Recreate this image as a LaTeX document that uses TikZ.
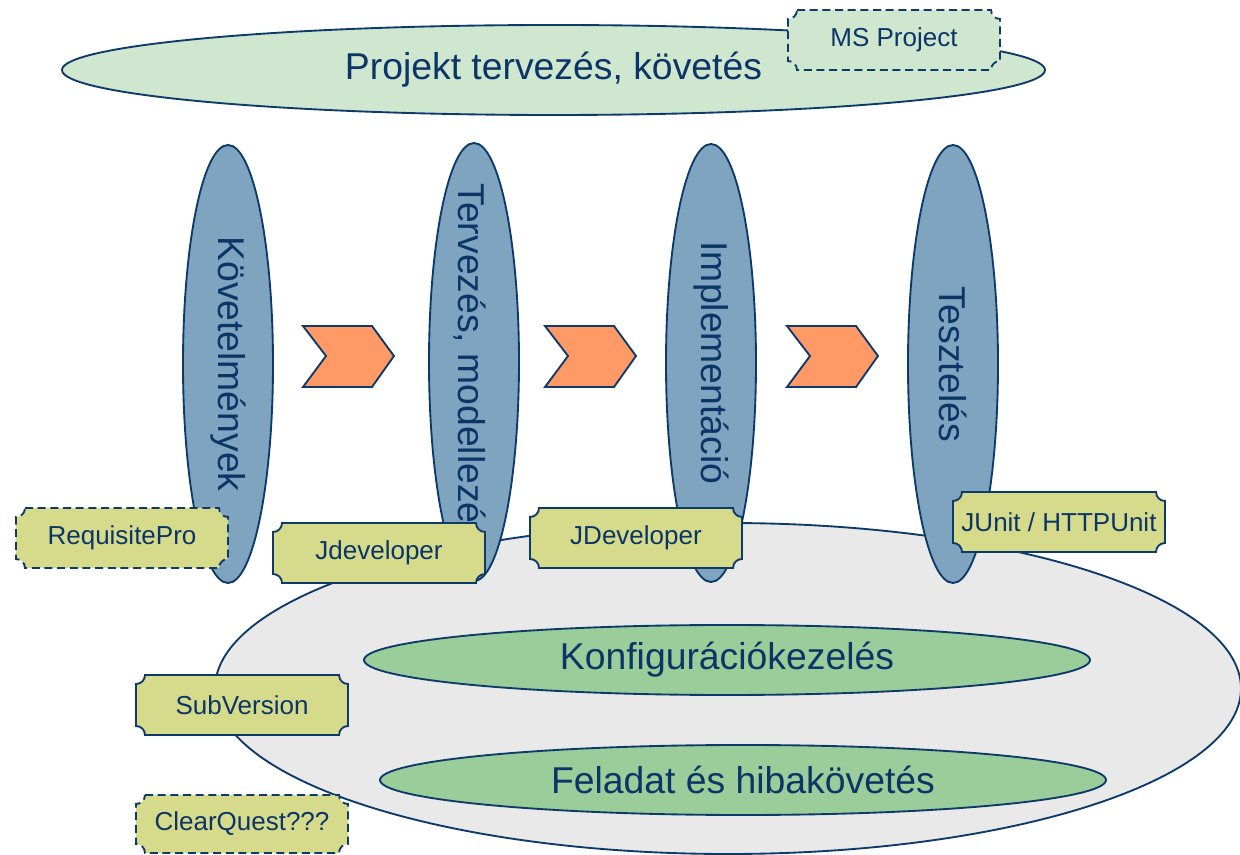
\documentclass[tikz,border=0pt]{standalone}
\usepackage{fontspec}
\setmainfont{Liberation Sans}
\usetikzlibrary{shapes.geometric}
\definecolor{navy}{HTML}{0E3A6A}
\definecolor{txt}{HTML}{0B3566}
\definecolor{bluegrey}{HTML}{7FA4BF}
\definecolor{lightgreen}{HTML}{CFE6CF}
\definecolor{midgreen}{HTML}{9ACD99}
\definecolor{greyfill}{HTML}{E9E9E9}
\definecolor{orangefill}{HTML}{FF9966}
\definecolor{tagfill}{HTML}{D6DA8B}
\newcommand{\plaque}[7]{%
\path[tagshape,#6] (#2+9,#3) -- (#4-9,#3) .. controls (#4-9,#3+5) and (#4-5,#3+9) .. (#4,#3+9) -- (#4,#5-9) .. controls (#4-5,#5-9) and (#4-9,#5-5) .. (#4-9,#5) -- (#2+9,#5) .. controls (#2+9,#5-5) and (#2+5,#5-9) .. (#2,#5-9) -- (#2,#3+9) .. controls (#2+5,#3+9) and (#2+9,#3+5) .. (#2+9,#3) -- cycle;
\node[tagtext] (#1) at ({(#2+#4)/2},{(#3+#5)/2}) {#7};}
\begin{document}
\begin{tikzpicture}[x=0.75pt,y=-0.75pt,
  outline/.style={draw=navy,line width=1.4pt},
  bigfont/.style={text=txt,font=\fontsize{28}{32}\selectfont},
  bigell/.style={outline,ellipse,inner sep=0pt,bigfont},
  phase/.style={outline,ellipse,inner sep=0pt,fill=bluegrey,minimum width=90*0.75pt,minimum height=438*0.75pt},
  phasetext/.style={bigfont,inner sep=0pt,rotate=-90},
  chevron/.style={outline,fill=orangefill,line join=miter},
  tagshape/.style={outline,fill=tagfill},
  dashedtag/.style={dash pattern=on 6pt off 3.5pt},
  tagtext/.style={inner sep=0pt,text=txt,font=\fontsize{19.5}{22}\selectfont}]
\useasboundingbox (0,0) rectangle (1240,855);
\fill[white] (0,0) rectangle (1240,855);
% top ellipse
\node[bigell,fill=lightgreen,minimum width=983*0.75pt,minimum height=90*0.75pt] (plan) at (553.5,70) {Projekt tervezés, követés};
\plaque{msp}{788}{10}{1000}{70}{dashedtag,fill=lightgreen}{MS Project}
% big grey ellipse
\node[bigell,fill=greyfill,minimum width=1026*0.75pt,minimum height=331*0.75pt] (support) at (728,688.5) {};
\node[bigell,fill=midgreen,minimum width=726*0.75pt,minimum height=70*0.75pt] (konf) at (727,660) {Konfigurációkezelés};
\node[bigell,fill=midgreen,minimum width=726*0.75pt,minimum height=70*0.75pt] (fel) at (743,780) {Feladat és hibakövetés};
% phases
\node[phase] (kov) at (228,364) {};
\node[phasetext] (kovt) at (kov.center) {Követelmények};
\node[phase] (terv) at (474,362) {};
\node[phasetext] (tervt) at (470,363) {Tervezés, modellezés};
\node[phase] (impl) at (711,363) {};
\node[phasetext] (implt) at (impl.center) {Implementáció};
\node[phase] (teszt) at (953,364) {};
\node[phasetext] (tesztt) at (teszt.center) {Tesztelés};
% chevrons
\foreach \x [count=\i] in {303,545,787}{
  \path[chevron] (\x,326) -- (\x+69,326) -- (\x+91,356) -- (\x+69,387) -- (\x,387) -- (\x+23,356) -- cycle;
}
% tags
\plaque{reqpro}{16}{508}{228}{568}{dashedtag}{RequisitePro}
\plaque{jdev1}{273}{523}{485}{583}{}{Jdeveloper}
\plaque{jdev2}{530}{508}{742}{568}{}{JDeveloper}
\plaque{junit}{953}{492}{1165}{552}{}{JUnit / HTTPUnit}
\plaque{svn}{136}{675}{348}{735}{}{SubVersion}
\plaque{cq}{136}{795}{348}{853}{dashedtag}{ClearQuest???}
\end{tikzpicture}
\end{document}
